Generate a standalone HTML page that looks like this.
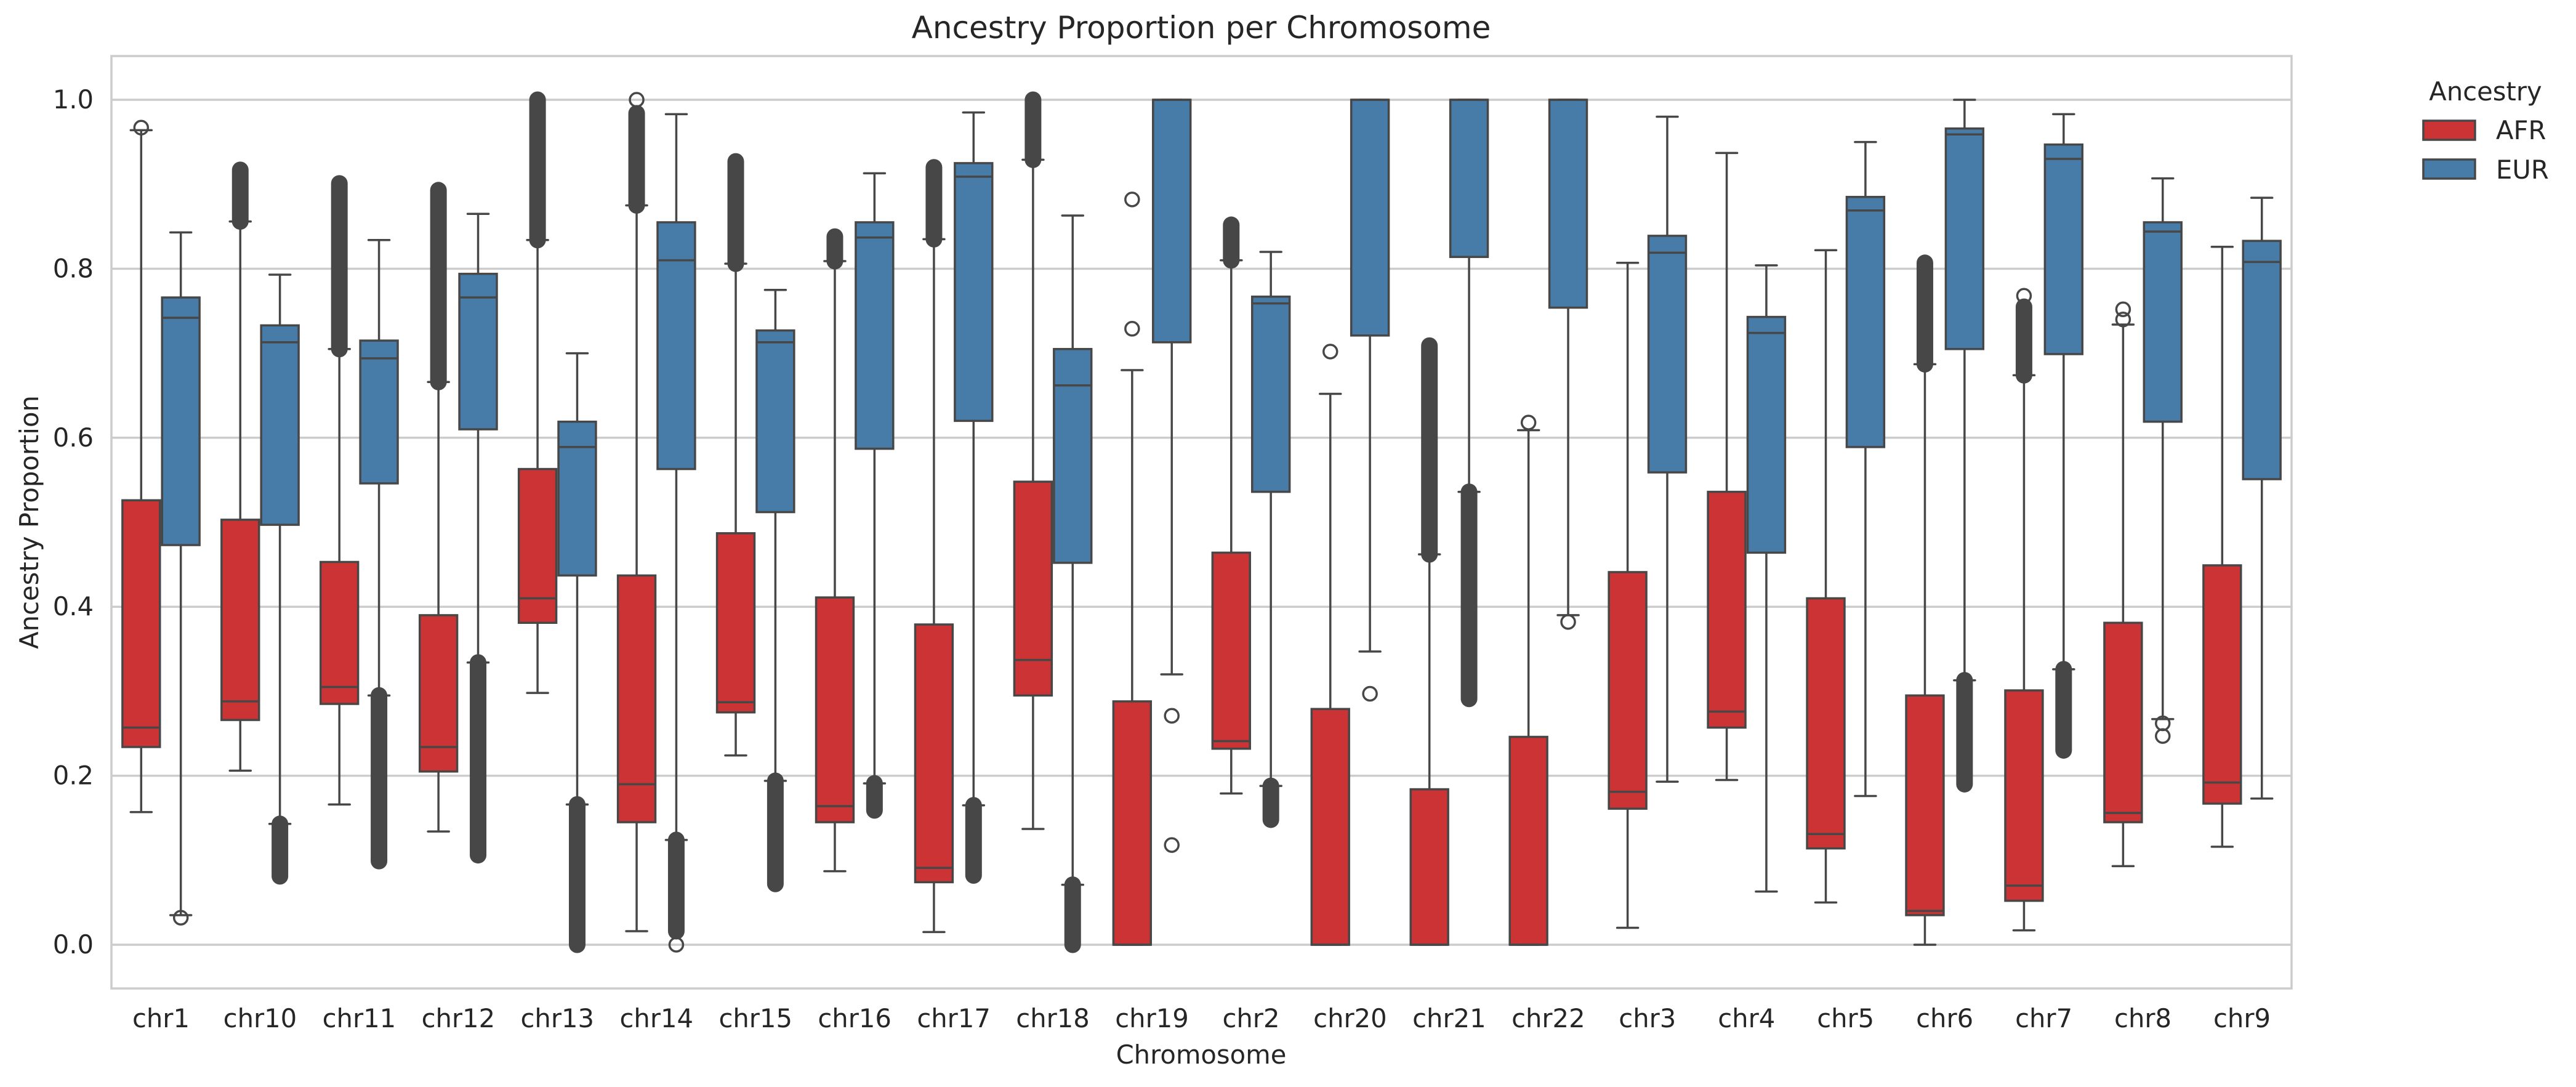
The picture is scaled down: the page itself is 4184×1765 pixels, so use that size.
<!DOCTYPE html>
<html><head><meta charset="utf-8"><style>
html,body{margin:0;padding:0;background:#fff;}
svg{display:block;font-family:"DejaVu Sans","Liberation Sans",sans-serif;}
</style></head><body>
<svg id="chart" width="4184" height="1765" viewBox="0 0 4184 1765" xmlns="http://www.w3.org/2000/svg">
<rect x="0" y="0" width="4184" height="1765" fill="#fff"/>
<g id="grid"></g>
<g id="boxes"></g>
<rect x="181" y="91" width="3541" height="1514" fill="none" stroke="#cccccc" stroke-width="3.5"/>
<g id="yticks"></g>
<g id="xticks"></g>
<text x="1951" y="62" text-anchor="middle" font-size="50" fill="#262626">Ancestry Proportion per Chromosome</text>
<text x="1951" y="1727" text-anchor="middle" font-size="41.7" fill="#262626">Chromosome</text>
<text transform="translate(62,848) rotate(-90)" text-anchor="middle" font-size="41.7" fill="#262626">Ancestry Proportion</text>
<g>
<text x="4037" y="163" text-anchor="middle" font-size="41.7" fill="#262626">Ancestry</text>
<g>
<rect x="3936" y="196" width="84" height="31" fill="#cb3335" stroke="#474747" stroke-width="3.5"/>
<text x="4054" y="226" font-size="41.7" fill="#262626">AFR</text>
</g>
<g>
<rect x="3936" y="259" width="84" height="31" fill="#477ca8" stroke="#474747" stroke-width="3.5"/>
<text x="4054" y="290" font-size="41.7" fill="#262626">EUR</text>
</g>
</g>
</svg>
<script>
const categories = ["chr1","chr10","chr11","chr12","chr13","chr14","chr15","chr16","chr17","chr18","chr19","chr2","chr20","chr21","chr22","chr3","chr4","chr5","chr6","chr7","chr8","chr9"];
const yTicks = [0.0,0.2,0.4,0.6,0.8,1.0];
const yTickLabels = ["0.0","0.2","0.4","0.6","0.8","1.0"];
// [whiskerLow, Q1, median, Q3, whiskerHigh]
const afrStats = [
[0.157,0.234,0.257,0.526,0.964],[0.206,0.266,0.288,0.503,0.856],[0.166,0.285,0.305,0.453,0.705],[0.134,0.205,0.234,0.390,0.666],
[0.298,0.381,0.410,0.563,0.834],[0.016,0.145,0.190,0.437,0.875],[0.224,0.275,0.287,0.487,0.806],[0.087,0.145,0.164,0.411,0.809],
[0.015,0.074,0.091,0.379,0.835],[0.137,0.295,0.337,0.548,0.929],[0,0,0,0.288,0.680],[0.179,0.232,0.241,0.464,0.810],
[0,0,0,0.279,0.652],[0,0,0,0.184,0.462],[0,0,0,0.246,0.609],[0.020,0.161,0.181,0.441,0.807],
[0.195,0.257,0.276,0.536,0.937],[0.050,0.114,0.131,0.410,0.822],[0,0.035,0.040,0.295,0.687],[0.017,0.052,0.070,0.301,0.674],
[0.093,0.145,0.156,0.381,0.734],[0.116,0.167,0.192,0.449,0.826]];
const eurStats = [
[0.035,0.473,0.742,0.766,0.843],[0.143,0.497,0.713,0.733,0.793],[0.295,0.546,0.694,0.715,0.834],[0.334,0.610,0.766,0.794,0.865],
[0.166,0.437,0.589,0.619,0.700],[0.124,0.563,0.810,0.855,0.983],[0.194,0.512,0.713,0.727,0.775],[0.191,0.587,0.837,0.855,0.913],
[0.165,0.620,0.909,0.925,0.985],[0.071,0.452,0.662,0.705,0.863],[0.320,0.713,1.0,1.0,1.0],[0.188,0.536,0.759,0.767,0.820],
[0.347,0.721,1.0,1.0,1.0],[0.536,0.814,1.0,1.0,1.0],[0.390,0.754,1.0,1.0,1.0],[0.193,0.559,0.819,0.839,0.980],
[0.063,0.464,0.724,0.743,0.804],[0.176,0.589,0.869,0.885,0.950],[0.313,0.705,0.959,0.966,1.0],[0.326,0.699,0.930,0.947,0.983],
[0.267,0.619,0.844,0.855,0.907],[0.173,0.551,0.808,0.833,0.884]];
// dense outlier ranges [low, high] or null
const afrOutRanges = [null,[0.856,0.917],[0.705,0.901],[0.666,0.893],[0.834,1.0],[0.875,0.984],[0.806,0.927],[0.809,0.838],[0.835,0.920],[0.929,1.0],null,[0.810,0.852],null,[0.462,0.709],null,null,null,null,[0.687,0.807],[0.674,0.755],null,null];
const eurOutRanges = [null,[0.081,0.143],[0.099,0.295],[0.106,0.334],[0.0,0.166],[0.016,0.124],[0.072,0.194],[0.159,0.191],[0.082,0.165],[0.0,0.071],null,[0.148,0.188],null,[0.291,0.536],null,null,null,null,[0.190,0.313],[0.230,0.326],null,null];
// individual outliers
const afrOutPoints = [[0.967],[],[],[],[],[1.0],[],[],[],[],[0.882,0.729],[],[0.702],[],[0.618],[],[],[],[],[0.768],[0.752,0.740],[]];
const eurOutPoints = [[0.032],[],[],[],[],[0.0],[],[],[],[],[0.271,0.118],[],[0.297],[],[0.382],[],[],[],[],[],[0.262,0.247],[]];

const NS='http://www.w3.org/2000/svg';
const X0=181,X1=3722,Y0v=1534,Y1v=162;
const step=(X1-X0)/categories.length;
function xc(i){return X0+step*(i+0.5);}
function yv(v){return Y0v+(Y1v-Y0v)*v;}
function mk(tag,attrs,parent){const e=document.createElementNS(NS,tag);for(const k in attrs)e.setAttribute(k,attrs[k]);parent.appendChild(e);return e;}
const grid=document.getElementById('grid'),boxes=document.getElementById('boxes'),yt=document.getElementById('yticks'),xt=document.getElementById('xticks');
yTicks.forEach((t,i)=>{
  const l=mk('line',{x1:X0,x2:X1,y1:yv(t),y2:yv(t),stroke:'#cccccc','stroke-width':3.5},grid);
  
  
  const tx=mk('text',{x:152,y:yv(t)+14,'text-anchor':'end','font-size':41.7,fill:'#262626'},yt);
  tx.textContent=yTickLabels[i];
  
  
});
categories.forEach((c,i)=>{
  const tx=mk('text',{x:xc(i),y:1668,'text-anchor':'middle','font-size':41.7,fill:'#262626'},xt);
  tx.textContent=c;
  
  
});
const bw=step*0.4, LC='#474747', SW=3.5;
function drawBox(i,s,fill,offset,name,ranges,pts){
  const g=mk('g',{},boxes);
  
  
  const left=xc(i)+offset, mid=left+bw/2;
  mk('line',{x1:mid,x2:mid,y1:yv(s[0]),y2:yv(s[1]),stroke:LC,'stroke-width':SW},g);
  mk('line',{x1:mid,x2:mid,y1:yv(s[3]),y2:yv(s[4]),stroke:LC,'stroke-width':SW},g);
  mk('line',{x1:mid-17,x2:mid+17,y1:yv(s[0]),y2:yv(s[0]),stroke:LC,'stroke-width':SW,'stroke-linecap':'round'},g);
  mk('line',{x1:mid-17,x2:mid+17,y1:yv(s[4]),y2:yv(s[4]),stroke:LC,'stroke-width':SW,'stroke-linecap':'round'},g);
  mk('rect',{x:left+1.75,y:yv(s[3]),width:bw-3.5,height:Math.max(0.01,yv(s[1])-yv(s[3])),fill:fill,stroke:LC,'stroke-width':SW},g);
  mk('line',{x1:left+1.75,x2:left+bw-1.75,y1:yv(s[2]),y2:yv(s[2]),stroke:LC,'stroke-width':SW},g);
  const r=ranges[i];
  if(r){
    const d=mk('line',{x1:mid,x2:mid,y1:yv(r[0]),y2:yv(r[1]),stroke:LC,'stroke-width':27,'stroke-linecap':'round'},g);
    
    
  }
  pts[i].forEach(p=>{
    const cc=mk('circle',{cx:mid,cy:yv(p),r:11,fill:'none',stroke:LC,'stroke-width':SW},g);
    
    
  });
}
categories.forEach((c,i)=>{
  drawBox(i,afrStats[i],'#cb3335',-bw,'afr',afrOutRanges,afrOutPoints);
  drawBox(i,eurStats[i],'#477ca8',0,'eur',eurOutRanges,eurOutPoints);
});
</script>
</body></html>
